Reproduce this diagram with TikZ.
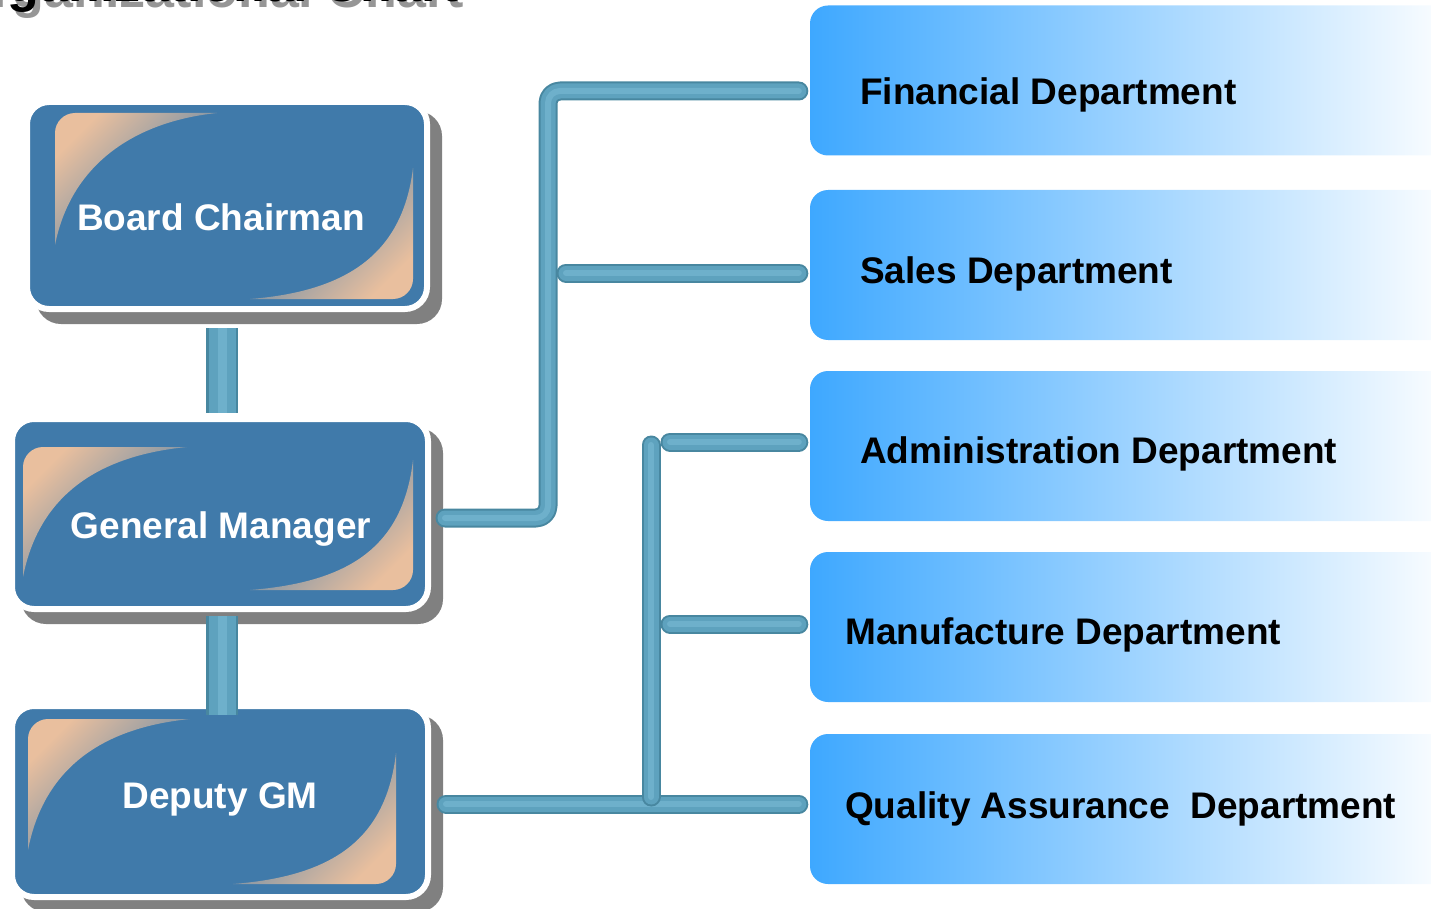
\documentclass[tikz,border=0pt]{standalone}
\usepackage{fontspec}
\setmainfont{Liberation Sans}
\usepackage{tikz}

\definecolor{boxblue}{RGB}{64,122,170}
\definecolor{peach}{RGB}{233,191,158}
\definecolor{shadowgray}{RGB}{128,128,128}
\definecolor{deptleft}{RGB}{62,168,255}
\definecolor{deptright}{RGB}{255,255,255}
\definecolor{pipedark}{RGB}{72,135,160}
\definecolor{pipemid}{RGB}{94,162,190}
\definecolor{pipelight}{RGB}{110,176,203}
\definecolor{titlegray}{RGB}{150,150,150}

\tikzset{
  bossbox/.style={rectangle, rounded corners=22pt, fill=boxblue, draw=white, line width=6pt,
    preaction={fill=shadowgray, draw=shadowgray, transform canvas={shift={(12pt,-12pt)}}}},
  deptbox/.style={rectangle, rounded corners=18pt, minimum width=650pt, minimum height=150pt,
    left color=deptleft, right color=deptright},
  tlglow/.style={top color=peach, bottom color=boxblue, shading angle=45},
  brglow/.style={top color=boxblue, bottom color=peach, shading angle=45},
  bosstext/.style={text=white, inner sep=0pt, font=\bfseries\fontsize{37}{44}\selectfont},
  depttext/.style={text=black, inner sep=0pt, font=\bfseries\fontsize{37}{44}\selectfont},
  titletext/.style={inner sep=0pt, font=\bfseries\fontsize{52}{60}\selectfont},
  pipe/.style={draw=pipedark, line width=19pt, line cap=round, line join=round,
    postaction={draw=pipemid, line width=15pt},
    postaction={draw=pipelight, line width=6pt}},
  stub/.style={draw=pipedark, line width=32pt,
    postaction={draw=pipemid, line width=27pt},
    postaction={draw=pipelight, line width=9pt}}
}

\begin{document}
\begin{tikzpicture}[x=1pt,y=-1pt]

    \useasboundingbox (0,0) rectangle (1431,909);
    \clip (0,0) rectangle (1431,909);

    % title, cut at the top edge
    \node[titletext, anchor=base west] (title) at (-53,2)
        {\rlap{\hspace{5pt}\raisebox{-6pt}{\color{titlegray}Organizational Chart}}Organizational Chart};

    % left column
    \node[bossbox, minimum width=400pt, minimum height=207pt] (bc) at (227,205.5) {};
    \node[bossbox, minimum width=416pt, minimum height=190pt] (gm) at (220,514) {};
    \node[bossbox, minimum width=416pt, minimum height=191pt] (dgm) at (220,801.5) {};

    \shade[tlglow] (55,245) -- (55,133) .. controls (55,122) and (64,113) .. (75,113) -- (217,113)
        .. controls (140,121) and (72,160) .. (55,245) -- cycle;
    \shade[brglow] (413,168) -- (413,279) .. controls (413,290) and (404,299) .. (393,299) -- (250,299)
        .. controls (352,291) and (403,250) .. (413,168) -- cycle;

    \shade[tlglow] (23,577) -- (23,467) .. controls (23,456) and (32,447) .. (43,447) -- (187,447)
        .. controls (105,455) and (40,490) .. (23,577) -- cycle;
    \shade[brglow] (413,460) -- (413,570) .. controls (413,581) and (404,590) .. (393,590) -- (250,590)
        .. controls (352,582) and (403,545) .. (413,460) -- cycle;

    \shade[tlglow] (28,850) -- (28,739) .. controls (28,728) and (37,719) .. (48,719) -- (190,719)
        .. controls (110,727) and (45,762) .. (28,850) -- cycle;
    \shade[brglow] (396,753) -- (396,864) .. controls (396,875) and (387,884) .. (376,884) -- (233,884)
        .. controls (335,876) and (386,838) .. (396,753) -- cycle;

    \node[bosstext, anchor=base] (bct) at (221,231) {Board Chairman};
    \node[bosstext, anchor=base] (gmt) at (221,538) {General Manager};
    \node[bosstext, anchor=base] (dgmt) at (220,808) {Deputy GM};

    % departments
    \node[deptbox] (fin) at (1135,80.5) {};
    \node[deptbox] (sal) at (1135,265) {};
    \node[deptbox] (adm) at (1135,446) {};
    \node[deptbox] (man) at (1135,627) {};
    \node[deptbox] (qa) at (1135,809) {};

    \node[depttext, anchor=base west] (fint) at (860,105) {Financial Department};
    \node[depttext, anchor=base west] (salt) at (860,283) {Sales Department};
    \node[depttext, anchor=base west] (admt) at (860,463) {Administration Department};
    \node[depttext, anchor=base west] (mant) at (845,644) {Manufacture Department};
    \node[depttext, anchor=base west] (qat) at (845,818) {Quality Assurance\ \ Department};

    % pipes
    \coordinate (gm-out) at ([xshift=14pt,yshift=-4pt]gm.east);
    \coordinate (dgm-out) at ([xshift=15pt,yshift=-2.5pt]dgm.east);
    \coordinate (fin-in) at ([xshift=-11pt,yshift=-10.5pt]fin.west);
    \coordinate (sal-in) at ([xshift=-11pt,yshift=-8pt]sal.west);
    \coordinate (adm-in) at ([xshift=-11pt,yshift=4pt]adm.west);
    \coordinate (man-in) at ([xshift=-11pt,yshift=3pt]man.west);
    \coordinate (qa-in) at ([xshift=-11pt,yshift=5pt]qa.west);
    \coordinate (j1) at (548,91);
    \coordinate (j2top) at (651,445);
    \coordinate (j2bot) at (651,797);

    \draw[pipe, rounded corners=12pt] (gm-out) -| (j1) -- (fin-in);
    \draw[pipe] (566,273) -- (sal-in);

    \draw[pipe] (dgm-out) -- (qa-in);
    \draw[pipe] (j2top) -- (j2bot);
    \draw[pipe] (670,442) -- (adm-in);
    \draw[pipe] (670,624) -- (man-in);

    \draw[stub] ([xshift=-5pt,yshift=-16pt]bc.south) -- ([xshift=2pt,yshift=3pt]gm.north);
    \draw[stub] ([xshift=2pt,yshift=-4pt]gm.south) -- ([xshift=2pt,yshift=-12pt]dgm.north);

\end{tikzpicture}
\end{document}
